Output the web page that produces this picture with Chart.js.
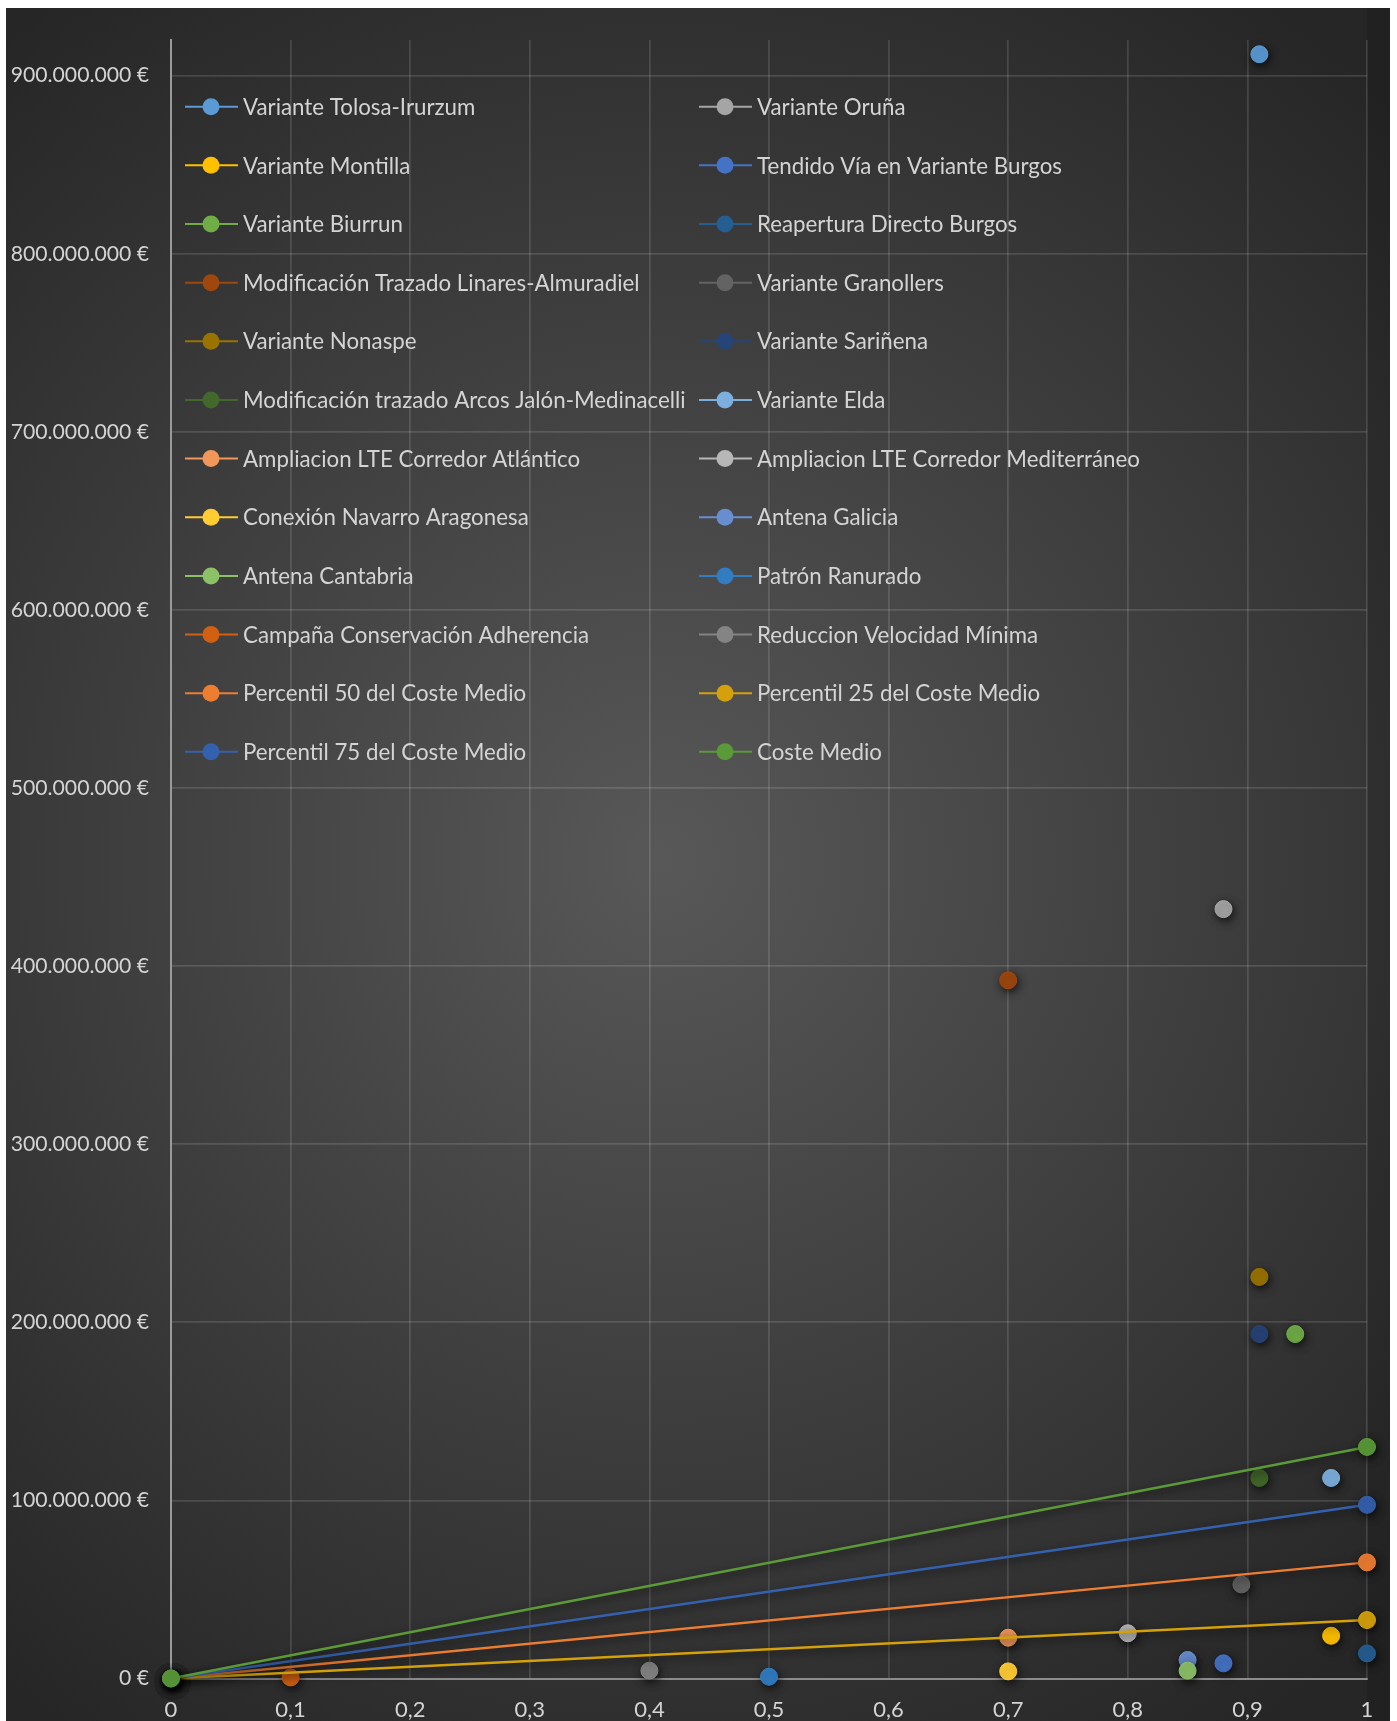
<!DOCTYPE html>
<html lang="es">
<head>
<meta charset="UTF-8">
<title>Coste por proyecto</title>
<script src="https://cdn.jsdelivr.net/npm/chart.js"></script>
<style>
  html, body { margin: 0; padding: 0; background: #fff; }
  .chart-container { position: relative; width: 1397px; height: 1721px; }
</style>
</head>
<body>
<div class="chart-container">
  <canvas id="grafico"></canvas>
</div>
<script>
// proyectos: una serie por proyecto, un solo punto cada una
const proyectos = [
  'Variante Tolosa-Irurzum', 'Variante Oruña', 'Variante Montilla', 'Tendido Vía en Variante Burgos',
  'Variante Biurrun', 'Reapertura Directo Burgos', 'Modificación Trazado Linares-Almuradiel', 'Variante Granollers',
  'Variante Nonaspe', 'Variante Sariñena', 'Modificación trazado Arcos Jalón-Medinacelli', 'Variante Elda',
  'Ampliacion LTE Corredor Atlántico', 'Ampliacion LTE Corredor Mediterráneo', 'Conexión Navarro Aragonesa', 'Antena Galicia',
  'Antena Cantabria', 'Patrón Ranurado', 'Campaña Conservación Adherencia', 'Reduccion Velocidad Mínima'
];
const indice = [0.91, 0.88, 0.97, 0.88, 0.94, 1.0, 0.70, 0.895, 0.91, 0.91, 0.91, 0.97, 0.70, 0.80, 0.70, 0.85, 0.85, 0.50, 0.10, 0.40];
const coste = [912000000, 432000000, 24000000, 8500000, 193400000, 14100000, 392000000, 52800000, 225500000, 193400000,
  112600000, 112600000, 22900000, 25400000, 4000000, 10400000, 4400000, 1000000, 600000, 4400000];
const coloresProyecto = ['#5B9BD5', '#A5A5A5', '#FFC000', '#4472C4', '#70AD47', '#255E91', '#9E480E', '#636363',
  '#997300', '#264478', '#43682B', '#7CAFDD', '#F1975A', '#B7B7B7', '#FFCD33', '#698ED0',
  '#8CC168', '#327DC2', '#D26012', '#848484'];

// rectas de referencia desde el origen
const referencias = ['Percentil 50 del Coste Medio', 'Percentil 25 del Coste Medio', 'Percentil 75 del Coste Medio', 'Coste Medio'];
const indiceRecta = [0, 1];
const percentil50 = [0, 65200000];
const percentil25 = [0, 32800000];
const percentil75 = [0, 97500000];
const costeMedio = [0, 130000000];
const coloresReferencia = ['#ED7D31', '#D4A00C', '#3461AE', '#5A9A38'];

// marcas de los ejes
const marcasX = [0, 0.1, 0.2, 0.3, 0.4, 0.5, 0.6, 0.7, 0.8, 0.9, 1];
const marcasY = [0, 100000000, 200000000, 300000000, 400000000, 500000000, 600000000, 700000000, 800000000, 900000000];
const ejeYMax = 920000000;

const fuente = 'Lato, "Open Sans", sans-serif';

const datasets = [];
proyectos.forEach((nombre, i) => {
  datasets.push({
    label: nombre,
    data: [{ x: indice[i], y: coste[i] }],
    backgroundColor: coloresProyecto[i],
    borderColor: coloresProyecto[i],
    showLine: false
  });
});
[percentil50, percentil25, percentil75, costeMedio].forEach((serie, k) => {
  datasets.push({
    label: referencias[k],
    data: indiceRecta.map((x, j) => ({ x: x, y: serie[j] })),
    backgroundColor: coloresReferencia[k],
    borderColor: coloresReferencia[k],
    showLine: true,
    borderWidth: 2.5
  });
});
// las series posteriores se pintan encima
datasets.forEach((d, i) => {
  d.order = datasets.length - i;
  d.clip = false;
  d.pointRadius = 8.5;
  d.pointHoverRadius = 8.5;
  d.pointBorderWidth = 1;
});

const fondo = {
  id: 'fondo',
  beforeDraw(chart) {
    const c = chart.ctx, a = chart.chartArea;
    c.save();
    c.fillStyle = '#ffffff';
    c.fillRect(0, 0, chart.width, chart.height);
    const g = c.createRadialGradient(660, 860, 0, 660, 860, 1050);
    g.addColorStop(0, '#585858');
    g.addColorStop(1, '#262626');
    c.fillStyle = g;
    c.fillRect(6, 8, 1384, chart.height - 8);
    c.fillStyle = 'rgba(0,0,0,0.12)';
    c.fillRect(a.right, 8, 1390 - a.right, chart.height - 8);
    c.restore();
  }
};

const sombra = {
  id: 'sombra',
  beforeDatasetDraw(chart) {
    const c = chart.ctx;
    c.save();
    c.shadowColor = 'rgba(0,0,0,0.7)';
    c.shadowBlur = 8;
    c.shadowOffsetX = 1.5;
    c.shadowOffsetY = 3;
  },
  afterDatasetDraw(chart) {
    chart.ctx.restore();
  }
};

// leyenda en dos columnas dentro del área de trazado
const leyenda = {
  id: 'leyenda',
  afterDraw(chart) {
    const c = chart.ctx;
    const colX = [185, 699];
    const fila0 = 106.7, paso = 58.65;
    c.save();
    c.font = '22.3px ' + fuente;
    c.textBaseline = 'middle';
    c.textAlign = 'left';
    chart.data.datasets.forEach((d, i) => {
      const x = colX[i % 2];
      const y = fila0 + Math.floor(i / 2) * paso;
      c.strokeStyle = d.borderColor;
      c.lineWidth = 2;
      c.beginPath();
      c.moveTo(x, y);
      c.lineTo(x + 53, y);
      c.stroke();
      c.fillStyle = d.backgroundColor;
      c.beginPath();
      c.arc(x + 26, y, 8.5, 0, Math.PI * 2);
      c.fill();
      c.fillStyle = '#d4d4d4';
      c.fillText(d.label, x + 58, y + 1);
    });
    c.restore();
  }
};

const formatoEuros = v => String(Math.round(v)).replace(/\B(?=(\d{3})+(?!\d))/g, '.') + ' €';
const formatoIndice = v => String(Math.round(v * 10) / 10).replace('.', ',');

new Chart(document.getElementById('grafico'), {
  type: 'scatter',
  data: { datasets: datasets },
  options: {
    responsive: true,
    maintainAspectRatio: false,
    animation: false,
    events: [],
    layout: { padding: { left: 0, top: 40, right: 30, bottom: 0 } },
    plugins: {
      legend: { display: false },
      tooltip: { enabled: false }
    },
    scales: {
      x: {
        type: 'linear',
        min: 0,
        max: 1,
        afterFit: s => { s.height = 42.5; },
        afterBuildTicks: s => { s.ticks = marcasX.map(v => ({ value: v })); },
        ticks: {
          autoSkip: false,
          maxRotation: 0,
          padding: 18,
          color: '#d4d4d4',
          font: { family: fuente, size: 22 },
          callback: formatoIndice
        },
        grid: { color: 'rgba(255,255,255,0.13)', lineWidth: 1.75, drawTicks: false },
        border: { color: '#8c8c8c', width: 2 }
      },
      y: {
        type: 'linear',
        min: 0,
        max: ejeYMax,
        afterFit: s => { s.width = 171; },
        afterBuildTicks: s => { s.ticks = marcasY.map(v => ({ value: v })); },
        ticks: {
          padding: 22,
          color: '#d4d4d4',
          font: { family: fuente, size: 21.2 },
          callback: formatoEuros
        },
        grid: { color: 'rgba(255,255,255,0.13)', lineWidth: 1.75, drawTicks: false },
        border: { color: '#9a9a9a', width: 2 }
      }
    }
  },
  plugins: [fondo, sombra, leyenda]
});
</script>
</body>
</html>
